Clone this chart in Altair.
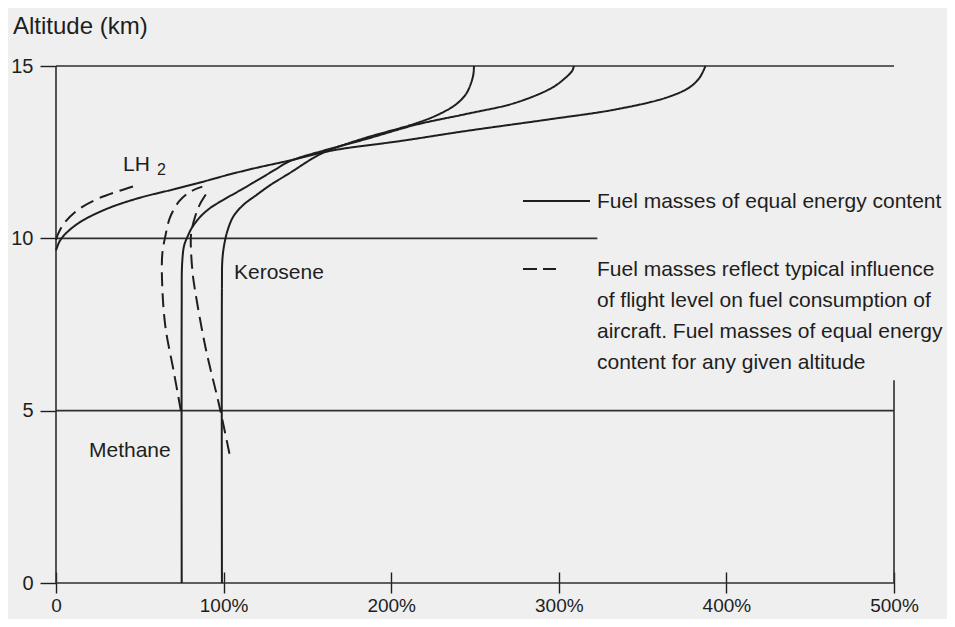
import altair as alt
import pandas as pd

# ---------------- data ----------------
# Solid curves: fuel masses of equal energy content  (x = % , y = altitude km)
lh2_pct = [0, 2, 5, 13.7, 30, 49.5, 70, 89, 104, 120, 139.6, 160, 171, 205, 244, 294, 334, 364, 378, 384, 387.5]
lh2_alt = [9.65, 9.9, 10.1, 10.45, 10.85, 11.17, 11.42, 11.66, 11.86, 12.05, 12.26, 12.5, 12.6, 12.82, 13.11, 13.45, 13.74, 14.08, 14.38, 14.66, 15.0]

methane_pct = [75, 75, 75.3, 76.5, 78.5, 81, 86, 92, 100, 109, 120, 130, 139.6, 160, 185, 215, 244, 274, 296, 304, 308, 309]
methane_alt = [0, 8.0, 9.3, 9.8, 10.05, 10.3, 10.62, 10.88, 11.12, 11.37, 11.68, 11.97, 12.24, 12.55, 12.88, 13.3, 13.6, 13.93, 14.37, 14.66, 14.86, 15.0]

kerosene_pct = [99, 99, 99.3, 100.5, 102.5, 106, 112, 119.7, 128, 139, 157.5, 170, 185, 215, 228.5, 238.5, 244.4, 247.4, 249, 249.4]
kerosene_alt = [0, 8.5, 9.4, 9.85, 10.25, 10.65, 10.98, 11.26, 11.55, 11.88, 12.44, 12.68, 12.92, 13.34, 13.6, 13.88, 14.17, 14.47, 14.75, 15.0]

# Dashed curves: typical influence of flight level on fuel consumption
lh2_d_pct = [0, 1, 5, 13.7, 25, 38, 49.5]
lh2_d_alt = [9.95, 10.1, 10.45, 10.85, 11.15, 11.38, 11.56]

methane_d_pct = [74.5, 70, 65.4, 63.5, 63.4, 65.4, 68, 73.4, 80, 87.3]
methane_d_alt = [5.0, 6.2, 7.39, 8.5, 9.53, 10.1, 10.6, 11.07, 11.35, 11.5]

kerosene_d_pct = [103.5, 97.3, 89.3, 83.4, 81.5, 80.4, 80.8, 83.4, 86, 91.3]
kerosene_d_alt = [3.75, 5.17, 6.81, 8.36, 9.0, 9.91, 10.2, 10.69, 11.0, 11.41]

# frame / reference lines
h_line_alt = [15, 10, 5, 0]
h_line_start = [0, 0, 0, 0]
h_line_end = [500, 323, 500, 500]
v_line_pct = [0, 500]
v_line_low = [0, 0]
v_line_high = [15, 5.88]

x_ticks = [0, 100, 200, 300, 400, 500]
y_ticks = [0, 5, 10, 15]

legend_solid_text = "Fuel masses of equal energy content"
legend_dashed_text = [
    "Fuel masses reflect typical influence",
    "of flight level on fuel consumption of",
    "aircraft. Fuel masses of equal energy",
    "content for any given altitude",
]

# ---------------- build tables ----------------
rows = []
def add(name, style, pcts, alts):
    for i, (p, a) in enumerate(zip(pcts, alts)):
        rows.append(dict(series=name, style=style, pct=p, alt=a, idx=i))

add("LH2", "solid", lh2_pct, lh2_alt)
add("Methane", "solid", methane_pct, methane_alt)
add("Kerosene", "solid", kerosene_pct, kerosene_alt)
add("LH2 d", "dashed", lh2_d_pct, lh2_d_alt)
add("Methane d", "dashed", methane_d_pct, methane_d_alt)
add("Kerosene d", "dashed", kerosene_d_pct, kerosene_d_alt)
curves_df = pd.DataFrame(rows)

h_df = pd.DataFrame(dict(y=h_line_alt, x1=h_line_start, x2=h_line_end))
v_df = pd.DataFrame(dict(x=v_line_pct, y1=v_line_low, y2=v_line_high))

FONT = "Liberation Sans"
INK = "#1e1e1e"

x_scale = alt.Scale(domain=[0, 500], nice=False, zero=False)
y_scale = alt.Scale(domain=[0, 15], nice=False, zero=False)

x_axis = alt.Axis(
    values=x_ticks,
    labelExpr="datum.value == 0 ? '0' : datum.value + '%'",
    domain=False, grid=False, ticks=True,
    tickSize=21, offset=-11, tickColor=INK, tickWidth=1.4,
    labelFont=FONT, labelFontSize=19, labelColor=INK,
    labelPadding=3, labelOverlap=False, labelFlush=False,
    title=None,
)
y_axis = alt.Axis(
    values=y_ticks,
    domain=False, grid=False, ticks=True,
    tickSize=16, tickColor=INK, tickWidth=1.4,
    labelFont=FONT, labelFontSize=20, labelColor=INK,
    labelPadding=7, labelOverlap=False, labelFlush=False,
    title=None,
)

h_lines = alt.Chart(h_df).mark_rule(color="#2e2e2e", strokeWidth=1.6).encode(
    x=alt.X("x1:Q", scale=x_scale, axis=x_axis),
    x2="x2:Q",
    y=alt.Y("y:Q", scale=y_scale, axis=y_axis),
)
v_lines = alt.Chart(v_df).mark_rule(color="#2e2e2e", strokeWidth=1.6).encode(
    x=alt.X("x:Q", scale=x_scale, axis=x_axis),
    y=alt.Y("y1:Q", scale=y_scale, axis=y_axis),
    y2="y2:Q",
)

curves = alt.Chart(curves_df).mark_line(
    interpolate="catmull-rom", color=INK, strokeWidth=2
).encode(
    x=alt.X("pct:Q", scale=x_scale, axis=x_axis),
    y=alt.Y("alt:Q", scale=y_scale, axis=y_axis),
    detail="series:N",
    order="idx:Q",
    strokeDash=alt.StrokeDash(
        "style:N",
        scale=alt.Scale(domain=["solid", "dashed"], range=[[1, 0], [14, 7]]),
        legend=None,
    ),
)

def label(txt, x, y, size=21, **kw):
    return alt.Chart().mark_text(
        text=txt, font=FONT, fontSize=size, color=INK,
        align="left", baseline="alphabetic", **kw
    ).encode(x=alt.value(x), y=alt.value(y))

title_t = label("Altitude (km)", -43, -32, size=24)
lh_t = label("LH", 67, 105)
lh_sub = label("2", 101, 109, size=16)
ker_t = label("Kerosene", 178, 213)
met_t = label("Methane", 33, 391)

leg_solid = alt.Chart().mark_rule(color=INK, strokeWidth=1.8).encode(
    x=alt.value(467), x2=alt.value(534), y=alt.value(135)
)
leg_dash = alt.Chart().mark_rule(color=INK, strokeWidth=1.8, strokeDash=[14, 6]).encode(
    x=alt.value(467), x2=alt.value(500), y=alt.value(203)
)
leg_t1 = label(legend_solid_text, 541, 142, size=21)
leg_t2 = label(legend_dashed_text, 541, 210, size=21, lineHeight=31)

chart = alt.layer(
    h_lines, v_lines, curves,
    title_t, lh_t, lh_sub, ker_t, met_t,
    leg_solid, leg_dash, leg_t1, leg_t2,
).properties(
    width=838, height=517,
    autosize=alt.AutoSizeParams(type="none"),
    padding={"left": 48, "top": 58, "right": 53, "bottom": 36},
    background="#efefef",
).configure_view(stroke=None)

chart.save("out.html", embed_options={"renderer": "svg", "actions": False})
